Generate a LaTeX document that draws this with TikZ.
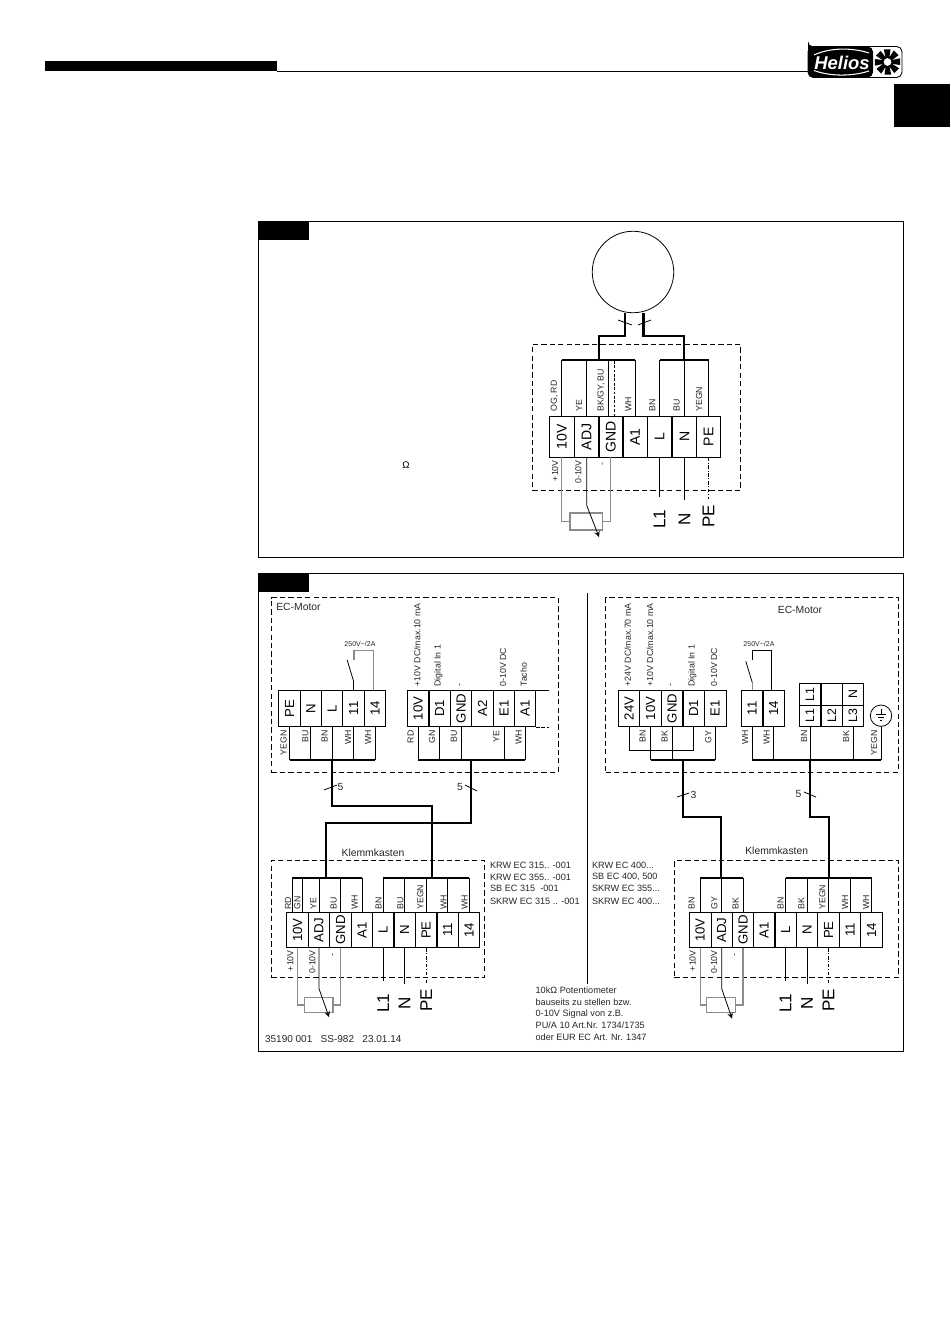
\documentclass[tikz,border=0pt]{standalone}
\usepackage{fontspec}
\usepackage{xcolor}
\setmainfont{Liberation Sans}
\newcommand{\rt}[1]{\rotatebox{90}{#1}}
\tikzset{
    panel/.style={draw, line width=0.55pt},
    tab/.style={fill=black, draw=black, inner sep=0pt},
    dashbox/.style={draw, line width=0.4pt, dash pattern=on 3pt off 1.8pt},
    bus/.style={line width=1.25pt},
    wire/.style={line width=0.45pt},
    graywire/.style={line width=0.7pt, draw=black!45},
    termP/.style={draw, inner sep=0pt, line width=0.45pt, minimum width=0.49cm, minimum height=0.806cm, font=\fontsize{8}{9}\selectfont},
    termM/.style={draw, inner sep=0pt, line width=0.45pt, minimum width=0.43cm, minimum height=0.728cm, font=\fontsize{7.5}{9}\selectfont},
    termK/.style={draw, inner sep=0pt, line width=0.45pt, minimum width=0.43cm, minimum height=0.708cm, font=\fontsize{7.5}{9}\selectfont},
    termL/.style={draw, inner sep=0pt, line width=0.45pt, minimum width=0.43cm, minimum height=0.434cm, font=\fontsize{7}{8}\selectfont},
    potbox/.style={draw=black!45, line width=0.7pt, inner sep=0pt, minimum width=0.57cm, minimum height=0.3cm},
    uplabel/.style={rotate=90, anchor=west, inner sep=0pt, font=\fontsize{5}{6}\selectfont, text=black!85},
    downlabel/.style={rotate=90, anchor=east, inner sep=0pt, font=\fontsize{5}{6}\selectfont, text=black!85},
    mains/.style={rotate=90, inner ysep=0pt, inner xsep=0.26cm, font=\fontsize{9.7}{11}\selectfont},
    plain/.style={anchor=west, inner sep=0pt, font=\fontsize{5.2}{6}\selectfont, text=black!85},
    title/.style={inner sep=0pt, font=\fontsize{5.9}{7}\selectfont, text=black!85},
    relay/.style={inner sep=0pt, font=\fontsize{4}{5}\selectfont, text=black!85},
}
\begin{document}
\begin{tikzpicture}[x=0.02cm, y=-0.02cm, >=stealth]
    \useasboundingbox (0,0) rectangle (950,1344);

    % Page head
    \fill[black] (45,61) rectangle (277,71);
    \draw[line width=0.5pt] (277,71) -- (808,71);
    \fill[black] (894,84) rectangle (950,127);

    % Logo
    \node [draw, rounded corners=3pt, line width=0.5pt, minimum width=1.88cm, minimum height=0.62cm, inner sep=0pt] (logo) at (855,62) {};
    \fill[black, rounded corners=3pt] (808,46.5) -| (873,77.5) -| cycle;
    \node [inner sep=0pt, text=white, font=\fontsize{10.5}{11}\bfseries\itshape\selectfont] (brand) at (842,62.5) {Helios};
    \draw[white, line width=0.6pt] (814,55) .. controls (830,47.5) and (852,47.5) .. (869,53);
    \draw[white, line width=0.6pt] (814,70.5) .. controls (830,76.5) and (852,76.5) .. (869,71);
    \foreach \a in {0,45,...,315}
        \fill[black, shift={(887.5,62)}, rotate=\a] (-1pt,2pt) -- (-2.1pt,7.2pt) -- (1.7pt,7.2pt) -- (1pt,2pt) -- cycle;
    \fill[black] (887.5,62) circle (3.3pt);
    \fill[white] (887.5,62) circle (2.2pt);

    % Upper panel
    \node [panel, minimum width=12.92cm, minimum height=6.74cm, inner sep=0pt] (panelA) at (581,389.5) {};
    \node [tab, minimum width=1cm, minimum height=0.36cm] (tabA) at (283,230) {};
    \node [dashbox, minimum width=4.17cm, minimum height=2.91cm, inner sep=0pt] (boxP) at (636.5,417.2) {};
    \node [draw, circle, line width=0.45pt, minimum size=1.63cm, inner sep=0pt] (motor) at (633,272) {};
    \node [inner sep=0pt, font=\fontsize{5.5}{6}\selectfont] (ohm) at (406,465) {Ω};

    \foreach \n/\x/\t in {p10v/561.8/10V, padj/586.7/ADJ, pgnd/610.8/GND, pa1/635/A1, pl/659.5/L, pn/684.5/N, ppe/708.5/PE}
        \node [termP] (\n) at (\x,436.8) {\rt{\t}};

    \foreach \x/\t [count=\i] in {554.3/{OG, RD}, 579/YE, 601/{BK/GY, BU}, 628.3/WH, 652.3/BN, 676.7/BU, 699/YEGN}
        \node [uplabel] (wp\i) at (\x,412) {\t};
    \node [downlabel] (sp1) at (555,460) {+10V};
    \node [downlabel] (sp2) at (578.3,460) {0-10V};
    \node [downlabel] (sp3) at (603.3,462) {-};

    \coordinate (busP) at (0,360);
    \coordinate (tapL) at (598.7,336);
    \coordinate (tapR) at (684,336);
    \draw [bus] ([xshift=-4.5pt]motor.south) |- (tapL) -- (tapL |- busP);
    \draw [bus] ([xshift=6pt]motor.south) |- (tapR) -- (tapR |- busP);
    \draw [bus] (p10v.north |- busP) -- (pa1.north |- busP);
    \draw [bus] (pl.north |- busP) -- (ppe.north |- busP);
    \foreach \t in {p10v, padj, pa1, pl, pn, ppe}
        \draw [wire] (\t.north) -- (\t.north |- busP);
    \draw [wire] ([xshift=-1.4pt]pgnd.north) -- ([xshift=-1.4pt]pgnd.north |- busP);
    \draw [wire, dash pattern=on 1.5pt off 1pt] ([xshift=2pt]pgnd.north) -- ([xshift=2pt]pgnd.north |- busP);
    \draw [wire] (618,320) -- (632,325);
    \draw [wire] (638,325) -- (651,320);

    \node [potbox, minimum width=0.654cm, minimum height=0.34cm] (potP) at (586.3,521.5) {};
    \coordinate (tipP) at (599,537);
    \draw [graywire] (p10v.south) |- (potP.west);
    \draw [graywire] (pgnd.south) |- (potP.east);
    \draw [wire, ->] (padj.south) -- ++(0,48) -- (tipP);

    \node [mains] (lp1) at (659.5,519.5) {L1};
    \node [mains] (lp2) at (684.5,519.5) {N};
    \node [mains, inner xsep=0.1cm] (lp3) at (708.5,516) {PE};
    \draw [wire] (pl.south) -- (lp1.east);
    \draw [wire] (pn.south) -- (lp2.east);
    \draw [wire, dash pattern=on 2pt off 1pt on 0.5pt off 1pt] (ppe.south) -- (lp3.east);

    % Lower panel
    \node [panel, minimum width=12.92cm, minimum height=9.58cm, inner sep=0pt] (panelB) at (581,812.5) {};
    \node [tab, minimum width=1cm, minimum height=0.36cm] (tabB) at (283,582) {};
    \coordinate (divTop) at (587,593);
    \coordinate (divEnd) at (587,984);
    \draw [wire] (divTop) -- (divEnd);

    \node [dashbox, minimum width=5.73cm, minimum height=3.49cm, inner sep=0pt] (boxM) at (414.7,684.9) {};
    \node [dashbox, minimum width=5.85cm, minimum height=3.49cm, inner sep=0pt] (boxN) at (752,684.9) {};
    \node [dashbox, minimum width=4.27cm, minimum height=2.33cm, inner sep=0pt] (boxK) at (378,919) {};
    \node [dashbox, minimum width=4.48cm, minimum height=2.33cm, inner sep=0pt] (boxL) at (786.3,919) {};
    \node [title] (tm1) at (298.5,606.7) {EC-Motor};
    \node [title] (tm2) at (800,610) {EC-Motor};
    \node [title] (tk1) at (373,852.7) {Klemmkasten};
    \node [title] (tk2) at (776.7,851) {Klemmkasten};

    % Motor terminals, left
    \foreach \n/\x/\t in {ape/289.5/PE, an/310.8/N, al/332/L, a11/353.5/11, a14/375/14, b10v/418/10V, bd1/439.7/D1, bgnd/461/GND, ba2/482.5/A2, be1/504/E1, ba1/525/A1}
        \node [termM] (\n) at (\x,708.5) {\rt{\t}};
    \draw [wire] (ba1.north east) -- ++(12.7,0);
    \draw [wire, dash pattern=on 2pt off 1pt] (ba1.south east) -- ++(12.7,0);

    % Motor terminals, right
    \foreach \n/\x/\t in {c24v/629/24V, c10v/650.5/10V, cgnd/672/GND, cd1/693.7/D1, ce1/715.2/E1, d11/752.2/11, d14/773.5/14}
        \node [termM] (\n) at (\x,708.5) {\rt{\t}};
    \foreach \n/\x/\t in {ea/810/L1, eb/831.7/L2, ec/853/L3}
        \node [termL] (\n) at (\x,715.8) {\rt{\t}};
    \foreach \n/\x/\t in {ed/810/L1, ee/831.7/, ef/853/N}
        \node [termL] (\n) at (\x,694.2) {\rt{\t}};
    \node [draw, circle, line width=0.45pt, minimum size=0.428cm, inner sep=0pt] (earth) at (881,715.7) {};
    \draw [line width=0.3pt] (881,709) -- (881,714) (876,714) -- (886,714) (878,717) -- (884,717) (880,720) -- (882,720);

    % Labels over the motor terminals
    \foreach \x/\t [count=\i] in {417.3/{+10V DC/max.10 mA}, 438.3/Digital In 1, 460.7/-, 503/0-10V DC, 523.7/Tacho, 627.7/{+24V DC/max.70 mA}, 650/{+10V DC/max.10 mA}, 671.7/-, 692.3/Digital In 1, 714/0-10V DC}
        \node [uplabel] (fn\i) at (\x,686.7) {\t};
    \foreach \x/\t [count=\i] in {283.7/YEGN, 305.3/BU, 324.7/BN, 348/WH, 368/WH, 410.7/RD, 432/GN, 454/BU, 496.3/YE, 518.7/WH, 642.7/BN, 664.7/BK, 708.3/GY, 745/WH, 766.7/WH, 804/BN, 846/BK, 874/YEGN}
        \node [downlabel] (wm\i) at (\x,730) {\t};

    % Relay contacts
    \node [relay] (ra) at (360,644) {250V\textasciitilde/2A};
    \node [relay] (rb) at (759,644) {250V\textasciitilde/2A};
    \draw [wire] (a11.north) -- ++(0,-9) -- ++(-6.4,-21);
    \draw [graywire] ([xshift=-1pt]a14.north) -- ++(0,-39.3) -- ++(-19.3,0) -- ++(0,9.6);
    \draw [graywire] (d11.north) -- ++(0,-8);
    \draw [wire] (752.2,682.3) -- ++(-6.4,-21);
    \draw [wire] ([xshift=-1.4pt]d14.north) -- ++(0,-39.3) -- ++(-18.8,0) -- ++(0,9.6);

    % Motor wiring
    \coordinate (busM) at (0,760);
    \foreach \t in {ape, an, al, a11, a14, b10v, bd1, bgnd, be1, ba1, c10v, cgnd, ce1, d11, d14, ea, ec, earth}
        \draw [wire] (\t.south) -- (\t.south |- busM);
    \draw [wire] (c24v.south) -- ++(0,23.3) -| (cd1.south);
    \draw [bus] (ape.south |- busM) -- (a14.south |- busM);
    \draw [bus] (b10v.south |- busM) -- (ba1.south |- busM);
    \draw [bus] (c10v.south |- busM) -- (ce1.south |- busM);
    \draw [bus] (d11.south |- busM) -- (earth.south |- busM);

    % Klemmkasten terminals, left
    \foreach \n/\x/\t in {k10v/297.6/10V, kadj/319/ADJ, kgnd/340.5/GND, ka1/362/A1, kl/383.2/L, kn/404.5/N, kpe/426.2/PE, k11/447.6/11, k14/469/14}
        \node [termK] (\n) at (\x,930) {\rt{\t}};
    % Klemmkasten terminals, right
    \foreach \n/\x/\t in {q10v/700.2/10V, qadj/721.7/ADJ, qgnd/743/GND, qa1/764.2/A1, ql/785.5/L, qn/807/N, qpe/828.5/PE, q11/850/11, q14/871.5/14}
        \node [termK] (\n) at (\x,930) {\rt{\t}};

    \foreach \x/\t [count=\i] in {288/RD, 297.3/GN, 313.3/YE, 333.7/BU, 354.7/WH, 378.7/BN, 400.3/BU, 420.3/YEGN, 443.7/WH, 464.7/WH, 691.7/BN, 714.3/GY, 735.7/BK, 780.7/BN, 801.3/BK, 822.3/YEGN, 845/WH, 866/WH}
        \node [uplabel] (wk\i) at (\x,910) {\t};
    \foreach \x/\t [count=\i] in {290.3/+10V, 312.3/0-10V, 692.7/+10V, 714/0-10V}
        \node [downlabel] (sk\i) at (\x,950) {\t};
    \node [downlabel] (sk5) at (333.7,953) {-};
    \node [downlabel] (sk6) at (735.7,953) {-};

    % Klemmkasten wiring
    \coordinate (busK) at (0,878.3);
    \draw [wire] ([xshift=-3pt]k10v.north) -- ([xshift=-3pt]k10v.north |- busK);
    \draw [wire] ([xshift=2.7pt]k10v.north) -- ([xshift=2.7pt]k10v.north |- busK);
    \foreach \t in {kadj, kgnd, ka1, kl, kn, kpe, k11, k14, q10v, qadj, qgnd, ql, qn, qpe, q11, q14}
        \draw [wire] (\t.north) -- (\t.north |- busK);
    \draw [bus] ([xshift=-3pt]k10v.north |- busK) -- (ka1.north |- busK);
    \draw [bus] (kl.north |- busK) -- (k14.north |- busK);
    \draw [bus] (q10v.north |- busK) -- (qgnd.north |- busK);
    \draw [bus] (ql.north |- busK) -- (q14.north |- busK);

    % Cables
    \coordinate (jogA) at (432,806);
    \coordinate (jogB) at (326.3,823);
    \coordinate (jogC) at (720.7,817);
    \coordinate (jogD) at (828.7,817);
    \coordinate (tapB) at (470.8,760);
    \coordinate (tapC) at (683,760);
    \draw [bus] (al.south |- busM) |- (jogA) -- (jogA |- busK);
    \draw [bus] (tapB) |- (jogB) -- (jogB |- busK);
    \draw [bus] (tapC) |- (jogC) -- (jogC |- busK);
    \draw [bus] (ea.south |- busM) |- (jogD) -- (jogD |- busK);

    % Cable ticks
    \draw [wire] (324,790) -- (337,785);
    \draw [wire] (465,785) -- (477,791);
    \draw [wire] (677,797) -- (689,793);
    \draw [wire] (804,792) -- (816,797);
    \node [title] (ca) at (340.5,787) {5};
    \node [title] (cb) at (460,787) {5};
    \node [title] (cc) at (693.5,795) {3};
    \node [title] (cd) at (798.5,794) {5};

    % Potentiometers
    \node [potbox, minimum height=0.292cm] (potK) at (318.8,1005) {};
    \node [potbox, minimum height=0.292cm] (potQ) at (721,1005) {};
    \draw [graywire] (k10v.south) |- (potK.west);
    \draw [graywire] (kgnd.south) |- (potK.east);
    \draw [graywire] (q10v.south) |- (potQ.west);
    \draw [graywire] (qgnd.south) |- (potQ.east);
    \coordinate (tipK) at (329,1017);
    \coordinate (tipQ) at (732,1018.5);
    \draw [wire, ->] (kadj.south) -- ++(0,40.6) -- (tipK);
    \draw [wire, ->] (qadj.south) -- ++(0,40.6) -- (tipQ);

    % Mains lines
    \node [mains] (lk1) at (383.2,1003.5) {L1};
    \node [mains] (lk2) at (404.5,1003.5) {N};
    \node [mains, inner xsep=0.08cm] (lk3) at (426.2,1000) {PE};
    \node [mains] (lq1) at (785.5,1003.5) {L1};
    \node [mains] (lq2) at (807,1003.5) {N};
    \node [mains, inner xsep=0.08cm] (lq3) at (828.5,1000) {PE};
    \draw [wire] (kl.south) -- (lk1.east);
    \draw [wire] (kn.south) -- (lk2.east);
    \draw [wire, dash pattern=on 2pt off 1pt on 0.5pt off 1pt] (kpe.south) -- (lk3.east);
    \draw [wire] (ql.south) -- (lq1.east);
    \draw [wire] (qn.south) -- (lq2.east);
    \draw [wire, dash pattern=on 2pt off 1pt on 0.5pt off 1pt] (qpe.south) -- (lq3.east);

    % Type lists and notes
    \foreach \y/\t [count=\i] in {865.7/KRW EC 315.. -001, 877/KRW EC 355.. -001, 888.7/SB EC 315\ \ -001, 901/SKRW EC 315 .. -001}
        \node [plain] (tl\i) at (489.7,\y) {\t};
    \node [plain] (tr1) at (591.7,865.7) {KRW EC 400...};
    \node [plain] (tr2) at (591.7,877) {SB EC 400, 500};
    \node [plain] (tr3) at (591.7,888.7) {SKRW EC 355...};
    \node [plain] (tr4) at (591.7,901) {SKRW EC 400...};
    \foreach \y/\t [count=\i] in {990.7/10kΩ Potentiometer, 1002.3/bauseits zu stellen bzw., 1014/0-10V Signal von z.B., 1025.7/{PU/A 10 Art.Nr. 1734/1735}, 1037.7/oder EUR EC Art. Nr. 1347}
        \node [plain] (nt\i) at (535.3,\y) {\t};
    \node [plain, font=\fontsize{5.7}{7}\selectfont] (code) at (264.7,1039) {35190 001\ \ \ SS-982\ \ \ 23.01.14};
\end{tikzpicture}
\end{document}
